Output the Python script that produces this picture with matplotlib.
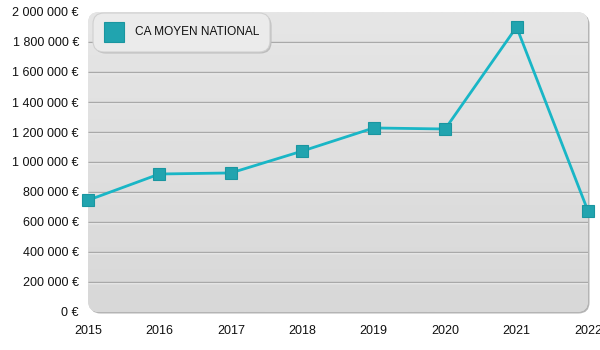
import numpy as np
import matplotlib
matplotlib.use("Agg")
import matplotlib.pyplot as plt
from matplotlib.patches import FancyBboxPatch
from matplotlib.lines import Line2D
from matplotlib import transforms

plt.rcParams["font.family"] = ["Liberation Sans", "DejaVu Sans"]

years = [2015, 2016, 2017, 2018, 2019, 2020, 2021, 2022]
ca_moyen = [745000, 920000, 927000, 1073000, 1227000, 1220000, 1900000, 673000]
series_name = "CA MOYEN NATIONAL"
y_ticks = list(range(0, 2000001, 200000))

LINE = "#19b6c6"
MARK = "#21a4af"

fig = plt.figure(figsize=(6, 3.5), dpi=100)
ax = fig.add_axes([88 / 600, 38 / 350, 500 / 600, 300 / 350])
ax.set_xlim(years[0], years[-1])
ax.set_ylim(0, 2000000)
for s in ax.spines.values():
    s.set_visible(False)

# rounded panel with a soft shadow on the right / bottom
aspect = 500 / 300
shadow_off = transforms.offset_copy(ax.transAxes, fig=fig, x=1.5, y=-1.5, units="dots")
shadow = FancyBboxPatch((0, 0), 1, 1, boxstyle="round,pad=0,rounding_size=0.022",
                        mutation_aspect=aspect, transform=shadow_off,
                        facecolor="#b4b4b4", edgecolor="none", zorder=0, clip_on=False)
ax.add_patch(shadow)
panel = FancyBboxPatch((0, 0), 1, 1, boxstyle="round,pad=0,rounding_size=0.022",
                       mutation_aspect=aspect, transform=ax.transAxes,
                       facecolor="#e0e0e0", edgecolor="none", zorder=0.5, clip_on=False)
ax.add_patch(panel)
grad = np.linspace(0, 1, 256).reshape(-1, 1)
img = ax.imshow(grad, extent=(0, 1, 0, 1), transform=ax.transAxes, aspect="auto",
                cmap=matplotlib.colors.LinearSegmentedColormap.from_list("bg", ["#e6e6e6", "#d8d8d8"]),
                origin="upper", zorder=0.6, interpolation="bilinear")
img.set_clip_path(panel)

# gridlines: grey line with a light highlight just under it
hl = transforms.offset_copy(ax.transData, fig=fig, x=0, y=-1, units="dots")
for v in y_ticks[1:-1]:
    ax.plot([years[0], years[-1]], [v, v], color="#a9a9a9", lw=1, zorder=1,
            solid_capstyle="butt")
    ax.plot([years[0], years[-1]], [v, v], color="#f4f4f4", lw=1, zorder=0.9,
            transform=hl, solid_capstyle="butt")

ax.plot(years, ca_moyen, color=LINE, lw=2, zorder=3, clip_on=False)
ax.plot(years, ca_moyen, ls="none", marker="s", markersize=8.5, markerfacecolor=MARK,
        markeredgecolor="#1a96a0", markeredgewidth=0.8, zorder=4, clip_on=False)

ax.set_yticks(y_ticks)
ax.set_yticklabels([f"{v:,}".replace(",", " ") + " €" for v in y_ticks])
ax.set_xticks(years)
ax.set_xticklabels([str(y) for y in years])
ax.tick_params(axis="both", length=0, labelsize=9, colors="#111111")
ax.tick_params(axis="y", pad=6.5)
ax.tick_params(axis="x", pad=9)

# legend box
lw_ax = 177 / 500
lh_ax = 39 / 300
lx, ly = 5 / 500, 1 - 40 / 300
leg_shadow = FancyBboxPatch((lx, ly), lw_ax, lh_ax, boxstyle="round,pad=0,rounding_size=0.022",
                            mutation_aspect=aspect, transform=shadow_off,
                            facecolor="#bcbcbc", edgecolor="none", zorder=5, clip_on=False)
ax.add_patch(leg_shadow)
leg = FancyBboxPatch((lx, ly), lw_ax, lh_ax, boxstyle="round,pad=0,rounding_size=0.022",
                     mutation_aspect=aspect, transform=ax.transAxes,
                     facecolor="#ebebeb", edgecolor="#d0d0d0", lw=0.8, zorder=6, clip_on=False)
ax.add_patch(leg)
ax.add_line(Line2D([26 / 500], [1 - 20 / 300], transform=ax.transAxes, ls="none",
                   marker="s", markersize=14, markerfacecolor=MARK,
                   markeredgecolor="#1a96a0", markeredgewidth=0.8, zorder=7, clip_on=False))
ax.text(47 / 500, 1 - 20 / 300, series_name, transform=ax.transAxes, fontsize=8.6,
        va="center", ha="left", color="#111111", zorder=7)

fig.savefig("out.png", dpi=100)
